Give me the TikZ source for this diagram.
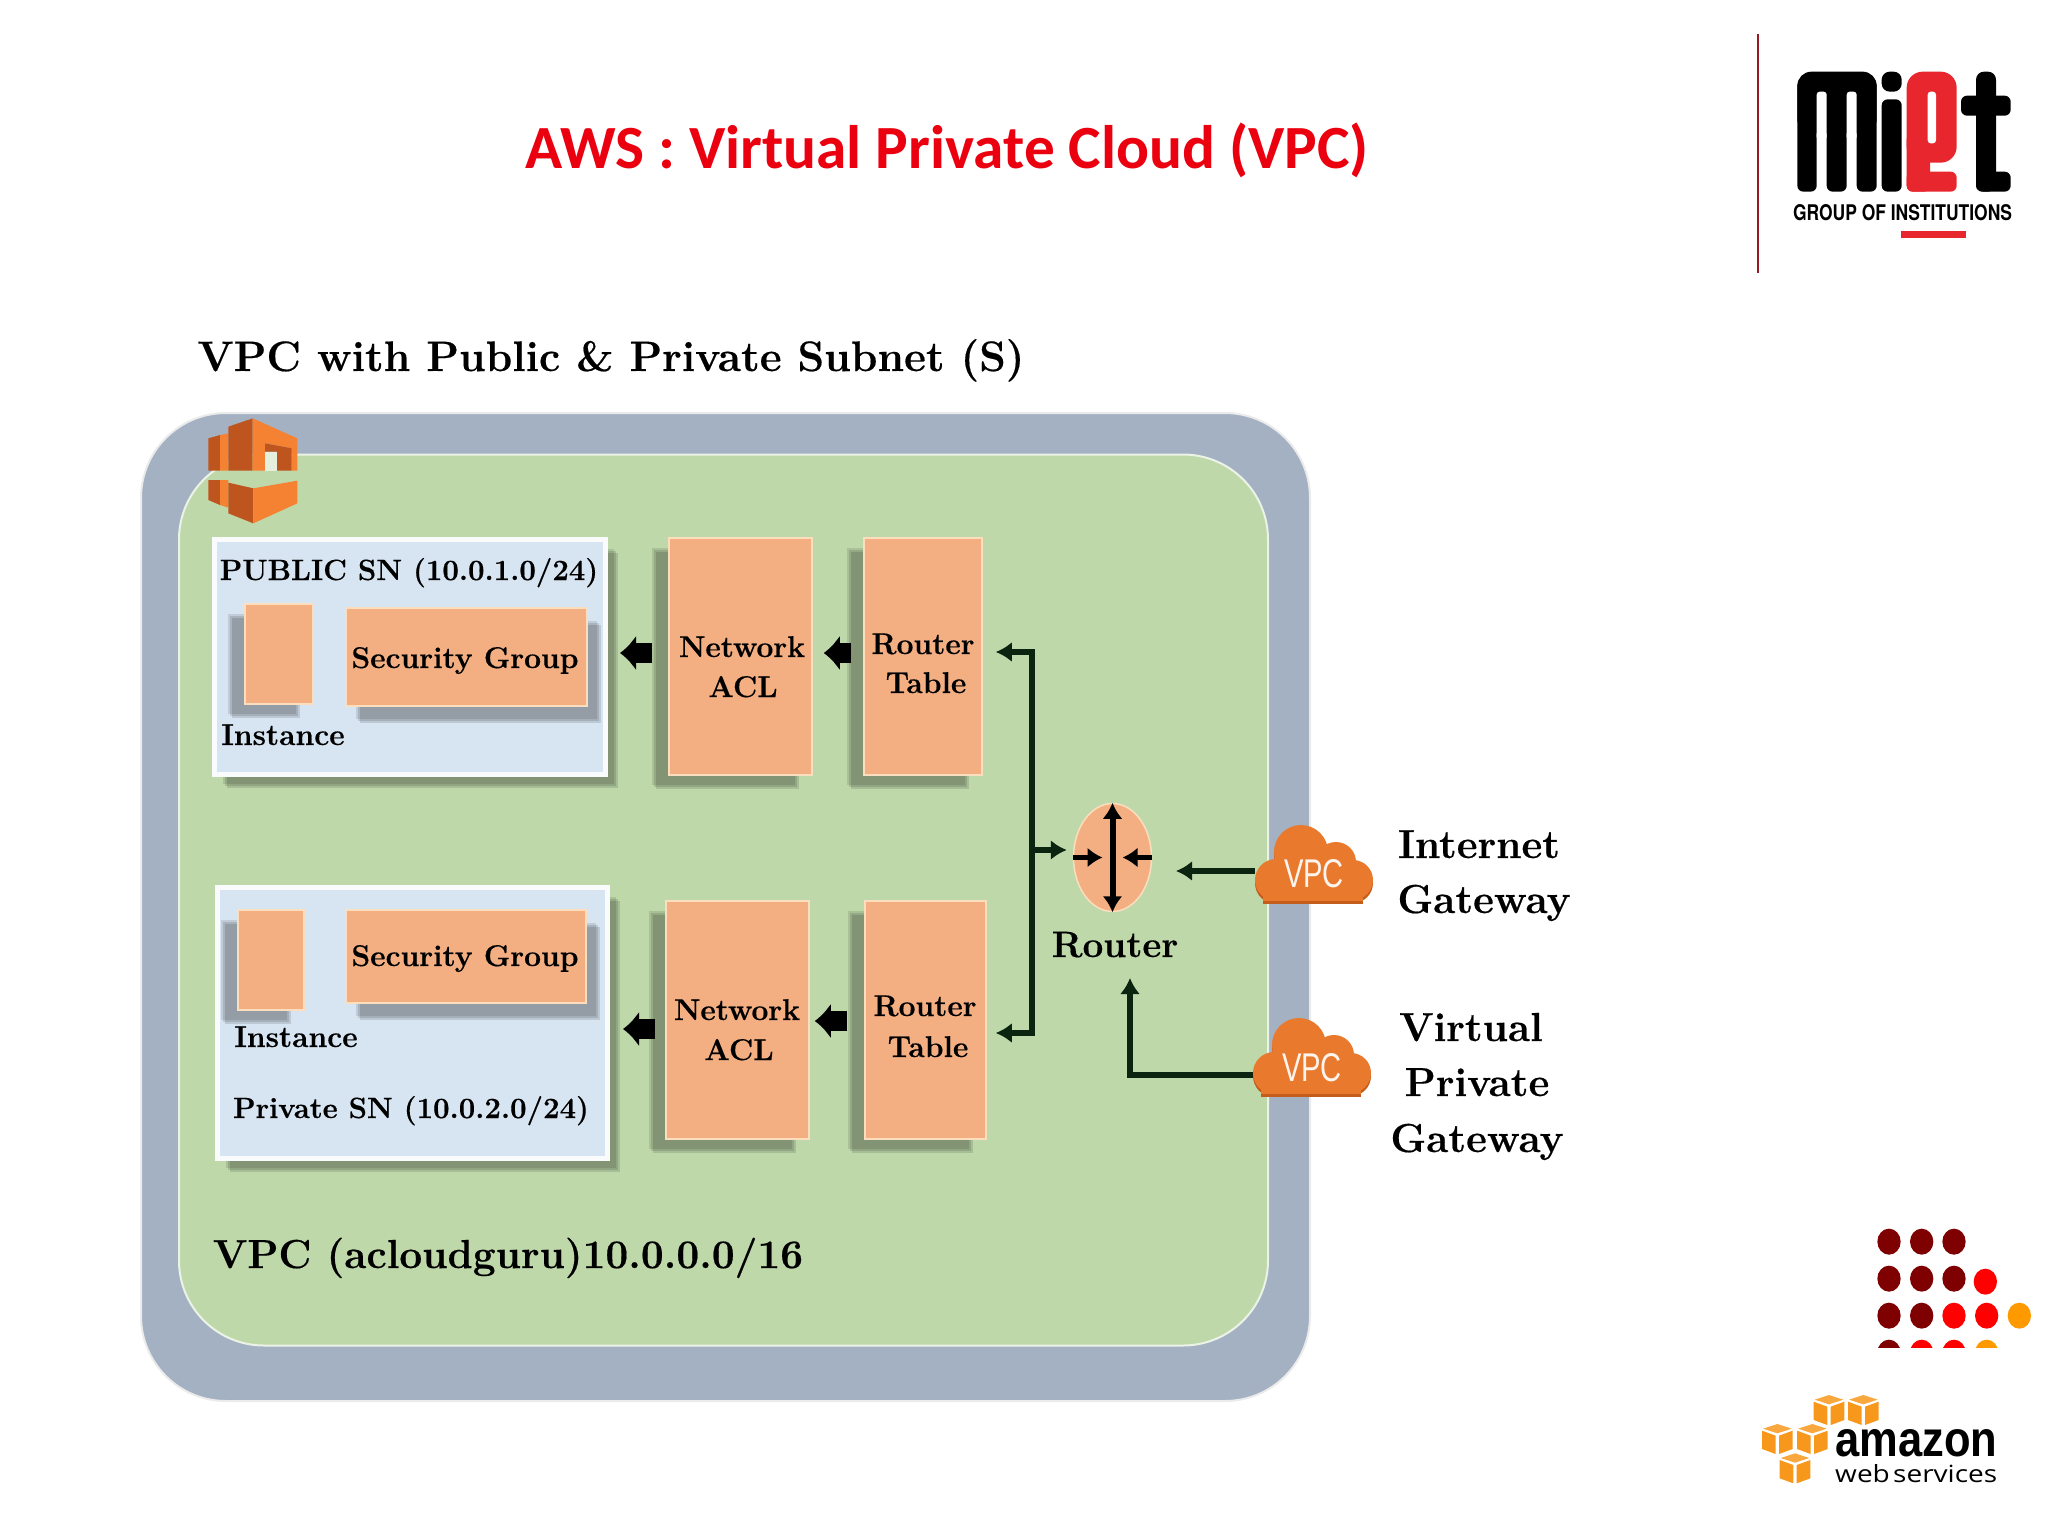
\documentclass[tikz,border=0pt]{standalone}
\usepackage{fontspec}
\usetikzlibrary{arrows.meta,shapes.geometric,shadows}
\newfontfamily\titlefont{Carlito}
\newfontfamily\logofont{TeX Gyre Heros}
\newfontfamily\awsfont{Liberation Sans}
\newfontfamily\webfont{Open Sans}
\newfontfamily\diagfont{Latin Modern Roman}[BoldFeatures={FakeBold=0.4}]
\definecolor{framegrey}{RGB}{164,177,195}
\definecolor{vpcgreen}{RGB}{190,216,170}
\definecolor{peach}{RGB}{243,175,130}
\definecolor{peachedge}{RGB}{250,222,190}
\definecolor{subnetblue}{RGB}{215,228,241}
\definecolor{cloudorange}{RGB}{233,121,45}
\definecolor{cloudshade}{RGB}{196,92,28}
\definecolor{titlered}{RGB}{235,0,15}
\definecolor{logored}{RGB}{232,38,45}
\definecolor{logoline}{RGB}{150,25,35}
\definecolor{linedark}{RGB}{10,36,16}
\definecolor{iconlight}{RGB}{245,130,50}
\definecolor{icondark}{RGB}{190,85,30}
\definecolor{cubeorange}{RGB}{247,152,29}
\definecolor{dotdark}{RGB}{127,0,0}
\definecolor{dotred}{RGB}{255,0,0}
\definecolor{dotgold}{RGB}{255,153,0}
\tikzset{
  framebox/.style={rectangle,rounded corners=85pt,inner sep=0pt},
  softshadow/.style n args={2}{
    drop shadow={shadow xshift=#1-2pt,shadow yshift=#2+2pt,fill=black,opacity=.1},
    drop shadow={shadow xshift=#1,shadow yshift=#2,fill=black,opacity=.12},
    drop shadow={shadow xshift=#1+2pt,shadow yshift=#2-2pt,fill=black,opacity=.12}},
  subnet/.style={rectangle,fill=subnetblue,draw=white!85!subnetblue,line width=5pt,inner sep=0pt,softshadow={10pt}{-11pt}},
  leftbox/.style={rectangle,fill=peach,draw=peachedge,line width=1.5pt,inner sep=0pt,softshadow={-15pt}{-12pt}},
  rightbox/.style={rectangle,fill=peach,draw=peachedge,line width=1.5pt,inner sep=0pt,softshadow={12pt}{-15pt}},
  lbl/.style={anchor=base,inner sep=0pt,text=black,font=\diagfont\bfseries\fontsize{30}{34}\selectfont},
  lblsn/.style={lbl,font=\diagfont\bfseries\fontsize{29.3}{34}\selectfont},
  lblbig/.style={lbl,font=\diagfont\bfseries\fontsize{40.5}{46}\selectfont},
  fatarrow/.style={-{Latex[length=16pt,width=36pt]},line width=20pt,black},
  link/.style={line width=5.5pt,linedark},
  vpccloud/.pic={
    \foreach \c/\d in {cloudshade/3,cloudorange/0}{
      \fill[\c] (-38,16+\d) circle (21) (-13,-12+\d) circle (27) (22,-2+\d) circle (20) (39,16+\d) circle (20);
      \fill[\c] (-51,10+\d) rectangle (49,37+\d);
    }
  },
  awscube/.pic={
    \fill[cubeorange!85!white] (-43,14) -- (0,0) -- (43,14) -- (0,28) -- cycle;
    \fill[cubeorange] (-46,20) -- (-5,35) -- (-5,90) -- (-46,75) -- cycle;
    \fill[cubeorange] (46,20) -- (5,35) -- (5,90) -- (46,75) -- cycle;
  }
}
\begin{document}
\begin{tikzpicture}[x=1pt,y=1pt,yscale=-1,xscale=1]
\useasboundingbox (0,0) rectangle (2048,1536);

% Title
\node (title) [anchor=base,inner sep=0pt,text=titlered,font=\titlefont\bfseries\fontsize{61.4}{70}\selectfont] at (947,168) {AWS : Virtual Private Cloud (VPC)};
\node (heading) [lblbig,font=\diagfont\bfseries\fontsize{42.6}{48}\selectfont] at (611,371) {VPC with Public \& Private Subnet (S)};

% Frames
\node (vpcouter) [framebox,fill=framegrey,draw=black!8,line width=2pt,minimum width=1169pt,minimum height=988pt] at (725.5,907) {};
\node (vpcinner) [framebox,fill=vpcgreen,draw=white!70!vpcgreen,line width=2pt,minimum width=1089pt,minimum height=891pt] at (723.5,900) {};

% VPC icon
\begin{scope}[shift={(190,410)},scale=1/3]
\fill[icondark] (55,85) -- (90,75) -- (90,182) -- (55,182) -- cycle;
\fill[iconlight] (90,75) -- (115,70) -- (115,182) -- (90,182) -- cycle;
\fill[icondark] (115,50) -- (188,25) -- (188,182) -- (115,182) -- cycle;
\fill[iconlight] (188,25) -- (322,85) -- (322,182) -- (305,182) -- (305,115) -- (225,100) -- (225,182) -- (188,182) -- cycle;
\fill[icondark] (225,100) -- (305,115) -- (305,182) -- (260,182) -- (260,125) -- (225,125) -- cycle;
\fill[white!60!vpcgreen] (225,125) rectangle (260,182);
\fill[icondark] (55,210) -- (90,210) -- (90,285) -- (55,270) -- cycle;
\fill[iconlight] (90,210) -- (115,210) -- (115,293) -- (90,285) -- cycle;
\fill[icondark] (115,218) -- (190,235) -- (190,340) -- (115,310) -- cycle;
\fill[iconlight] (190,235) -- (322,212) -- (322,280) -- (190,340) -- cycle;
\end{scope}

% Public subnet
\node (pub) [subnet,minimum width=391pt,minimum height=235pt] at (410,657) {};
\node (inst1) [leftbox,minimum width=68pt,minimum height=100pt] at (279,654) {};
\node (sg1) [rightbox,minimum width=241pt,minimum height=98pt] at (466.5,657) {};
\node (publbl) [lblsn] at (409,580) {PUBLIC SN (10.0.1.0/24)};
\node (inst1lbl) [lbl] at (283,745) {Instance};
\node (sg1lbl) [lbl] at (465,668) {Security Group};

% Private subnet
\node (pri) [subnet,minimum width=390pt,minimum height=271pt] at (412.5,1023) {};
\node (inst2) [leftbox,minimum width=66pt,minimum height=100pt] at (271,960) {};
\node (sg2) [rightbox,minimum width=240pt,minimum height=93pt] at (466,956.5) {};
\node (inst2lbl) [lbl] at (296,1047) {Instance};
\node (sg2lbl) [lbl] at (465,966) {Security Group};
\node (prilbl) [lblsn] at (411,1118) {Private SN (10.0.2.0/24)};

% ACL and router tables
\node (acl1) [leftbox,minimum width=143pt,minimum height=237pt] at (740.5,656.5) {};
\node (rt1) [leftbox,minimum width=118pt,minimum height=237pt] at (923,656.5) {};
\node (acl2) [leftbox,minimum width=143pt,minimum height=238pt] at (737.5,1020) {};
\node (rt2) [leftbox,minimum width=121pt,minimum height=238pt] at (925.5,1020) {};
\node (acl1a) [lbl] at (742,657) {Network};
\node (acl1b) [lbl] at (743,697) {ACL};
\node (rt1a) [lbl] at (923,654) {Router};
\node (rt1b) [lbl] at (926,693) {Table};
\node (acl2a) [lbl] at (737,1020) {Network};
\node (acl2b) [lbl] at (739,1060) {ACL};
\node (rt2a) [lbl] at (925,1016) {Router};
\node (rt2b) [lbl] at (928,1057) {Table};

% Router
\node (router) [ellipse,fill=peach,draw=peachedge,line width=1.5pt,inner sep=0pt,minimum width=78pt,minimum height=108pt] at (1112.5,857.5) {};
\node (routerlbl) [lbl,font=\diagfont\bfseries\fontsize{36.8}{42}\selectfont] at (1115,957) {Router};

% Clouds
\pic[yscale=-1] at (1314,864) {vpccloud};
\node (igw) [inner sep=0pt,minimum width=118pt,minimum height=60pt,text=white!92!cloudorange] at (1314,874) {\resizebox{60pt}{28pt}{\awsfont VPC}};
\pic[yscale=-1] at (1312,1057) {vpccloud};
\node (vpg) [inner sep=0pt,minimum width=118pt,minimum height=60pt,text=white!92!cloudorange] at (1312,1068) {\resizebox{60pt}{28pt}{\awsfont VPC}};
\node (igwa) [lblbig] at (1479,858) {Internet};
\node (igwb) [lblbig] at (1484,913) {Gateway};
\node (vpga) [lblbig] at (1471,1041) {Virtual};
\node (vpgb) [lblbig] at (1477,1096) {Private};
\node (vpgc) [lblbig] at (1477,1152) {Gateway};
\node (vpclbl) [lblbig] at (508,1268) {VPC (acloudguru)10.0.0.0/16};

% Block arrows
\draw[fatarrow,shorten <=16pt,shorten >=12pt] (acl1.west |- 0,653) -- (pub.east |- 0,653);
\draw[fatarrow,shorten <=12pt,shorten >=11pt] (rt1.west |- 0,653) -- (acl1.east |- 0,653);
\draw[fatarrow,shorten <=10pt,shorten >=13pt] (acl2.west |- 0,1029) -- (pri.east |- 0,1029);
\draw[fatarrow,shorten <=17pt,shorten >=5pt] (rt2.west |- 0,1021) -- (acl2.east |- 0,1021);

% Connectors
\coordinate (bus) at (1032,850);
\coordinate (igwtip) at (1176,871);
\coordinate (vpgtip) at (1130,978);
\draw[link,{Latex[length=16pt,width=20pt]}-{Latex[length=16pt,width=20pt]},shorten <=13pt,shorten >=9pt] (rt1.east |- 0,652) -- (bus |- 0,652) -- (bus |- 0,1033) -- (rt2.east |- 0,1033);
\draw[link,-{Latex[length=16pt,width=20pt]},shorten >=6pt] (bus) -- (router.west |- bus);
\draw[link,-{Latex[length=16pt,width=20pt]}] (igw.west |- igwtip) -- (igwtip);
\draw[link,-{Latex[length=16pt,width=20pt]}] (vpg.west |- 0,1075) -| (vpgtip);
\draw[link,black,{Latex[length=16pt,width=20pt]}-{Latex[length=16pt,width=20pt]},line width=6pt] (router.north) -- (router.south);
\draw[link,black,-{Latex[length=15pt,width=20pt]},shorten >=10pt] (router.west) -- (router.center);
\draw[link,black,-{Latex[length=15pt,width=20pt]},shorten >=10pt] (router.east) -- (router.center);

% MIET logo
\draw[line width=2.5pt,logoline] (1758,34) -- (1758,273);
\begin{scope}[shift={(1700,0)},scale=1/3]
\fill[black,rounded corners=14pt] (292,215) rectangle (530,400);
\foreach \sx/\ex in {292/350,380/440,470/530}{
  \fill[black,rounded corners=6pt] (\sx,240) rectangle (\ex,575);
}
\foreach \sx/\ex in {350/380,440/470}{
  \fill[white,rounded corners=3pt] (\sx,275) rectangle (\ex,420);
}
\fill[black,rounded corners=6pt] (545,298) rectangle (605,575);
\fill[black,rounded corners=8pt] (545,215) rectangle (605,275);
\fill[logored,rounded corners=16pt] (620,215) rectangle (770,488);
\fill[logored,rounded corners=6pt] (620,400) rectangle (690,575);
\fill[logored,rounded corners=6pt] (620,515) rectangle (770,575);
\fill[white,rounded corners=3pt] (683,275) rectangle (708,430);
\fill[black,rounded corners=8pt] (828,215) rectangle (888,575);
\fill[black,rounded corners=6pt] (783,287) rectangle (932,347);
\fill[black,rounded corners=6pt] (828,515) rectangle (932,575);
\fill[logored] (602,692) rectangle (797,715);
\end{scope}
\node (miettext) [inner sep=0pt] at (1902.5,213) {\resizebox{219pt}{16pt}{\logofont\bfseries GROUP OF INSTITUTIONS}};

% Dots
\begin{scope}[shift={(1700,1200)},scale=1/3]
\clip (500,60) rectangle (1030,443);
\foreach \dx/\dy/\dc in {567/125/dotdark,665/125/dotdark,762/125/dotdark,
  567/236/dotdark,665/236/dotdark,762/236/dotdark,856/245/dotred,
  567/347/dotdark,665/347/dotdark,762/347/dotred,860/347/dotred,958/347/dotgold,
  567/458/dotdark,665/458/dotred,762/458/dotred,860/458/dotgold}{
  \fill[\dc] (\dx,\dy) ellipse [x radius=35,y radius=39];
}
\end{scope}

% Amazon logo
\foreach \cx/\cy in {387/585,490/585,232/672,337/672,285/760}{
  \pic[xscale=1/3,yscale=-1/3] at ({1700+\cx/3},{1200+\cy/3}) {awscube};
}
\node (amazon) [anchor=west,inner sep=0pt] at (1835,1443.5) {\resizebox{162pt}{27pt}{\awsfont\bfseries amazon}};
\node (websvc) [anchor=west,inner sep=0pt] at (1835,1474) {\resizebox{162pt}{18pt}{\webfont web\hspace{.12em}services}};
\end{tikzpicture}
\end{document}
